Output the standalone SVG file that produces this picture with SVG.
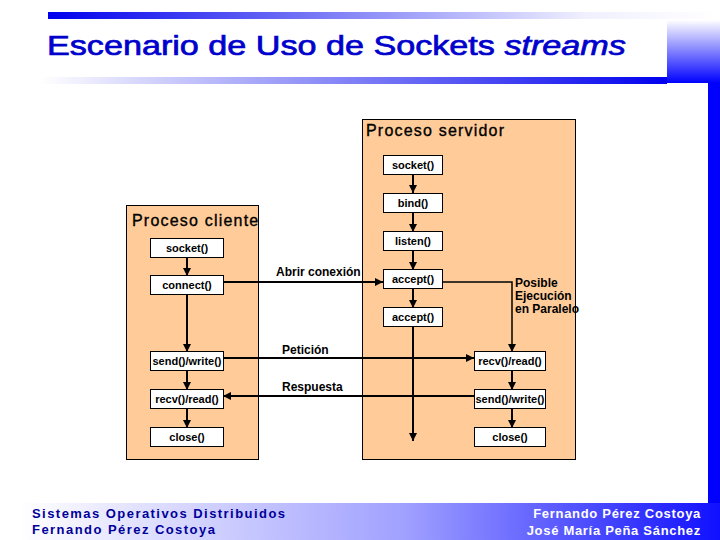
<svg xmlns="http://www.w3.org/2000/svg" width="720" height="540" viewBox="0 0 720 540">
<defs>
<linearGradient id="gTop" x1="0" y1="0" x2="1" y2="0"><stop offset="0" stop-color="#0000ee"/><stop offset="0.8" stop-color="#f0f0ff"/><stop offset="1" stop-color="#ffffff"/></linearGradient>
<linearGradient id="gBot" x1="0" y1="0" x2="1" y2="0"><stop offset="0" stop-color="#ffffff"/><stop offset="1" stop-color="#0000ee"/></linearGradient>
<linearGradient id="gRight" x1="0" y1="0" x2="0" y2="1"><stop offset="0" stop-color="#ffffff"/><stop offset="1" stop-color="#0000ff"/></linearGradient>
<linearGradient id="gFoot" gradientUnits="userSpaceOnUse" x1="20" y1="0" x2="720" y2="0"><stop offset="0" stop-color="#ffffff"/><stop offset="0.55" stop-color="#a0a0ff"/><stop offset="1" stop-color="#1010ff"/></linearGradient>
<marker id="ah" markerUnits="userSpaceOnUse" markerWidth="8" markerHeight="8" refX="8" refY="4" orient="auto"><path d="M0,0 L8,4 L0,8 z" fill="#000"/></marker>
<style>
.proc{fill:#FFCC99;stroke:#000;stroke-width:1}
.box{fill:#fff;stroke:#000;stroke-width:1}
.lbl{font-family:"Liberation Sans",Arial,sans-serif;font-size:11px;font-weight:bold;fill:#000;text-anchor:middle}
.ptitle{font-family:"Liberation Sans",Arial,sans-serif;font-size:16px;fill:#000;stroke:#000;stroke-width:0.35px;letter-spacing:1.2px}
.clbl{font-family:"Liberation Sans",Arial,sans-serif;font-size:12px;font-weight:bold;fill:#000}
.ln{fill:none;stroke:#000;stroke-width:2}
.ln1{fill:none;stroke:#000;stroke-width:1.5}
.fl{font-family:"Liberation Sans",Arial,sans-serif;font-size:13px;font-weight:bold;fill:#000099;letter-spacing:1.45px}
.fr{font-family:"Liberation Sans",Arial,sans-serif;font-size:13px;font-weight:bold;fill:#ffffff;letter-spacing:0.7px;text-anchor:end}
</style>
</defs>
<g id="header">
<rect x="48" y="12" width="672" height="7" fill="url(#gTop)"/>
<rect x="667" y="20" width="53" height="63" fill="url(#gRight)"/>
<rect x="40" y="77" width="627" height="7" fill="url(#gBot)"/>
<rect x="708" y="83" width="12" height="420" fill="#0000ff"/>
<text transform="translate(47,55) scale(1.22,1)" x="0" y="0" font-family="'Liberation Sans',Arial,sans-serif" font-size="28" fill="#0000cc" stroke="#0000cc" stroke-width="0.7">Escenario de Uso de Sockets <tspan font-style="italic">streams</tspan></text>
</g>
<g id="footer">
<rect x="0" y="503" width="720" height="37" fill="url(#gFoot)"/>
<text class="fl" x="32" y="518">Sistemas Operativos Distribuidos</text>
<text class="fl" x="32" y="534">Fernando Pérez Costoya</text>
<text class="fr" x="701" y="518">Fernando Pérez Costoya</text>
<text class="fr" x="701" y="535">José María Peña Sánchez</text>
</g>
<g id="servidor">
<rect class="proc" x="362.5" y="119.5" width="213" height="340"/>
<text class="ptitle" x="366" y="136">Proceso servidor</text>
</g>
<g id="cliente">
<rect class="proc" x="126.5" y="205.5" width="132" height="254"/>
<text class="ptitle" x="132" y="226">Proceso cliente</text>
</g>
<g id="connectors">
<line class="ln" x1="413" y1="174" x2="413" y2="193" marker-end="url(#ah)"/>
<line class="ln" x1="413" y1="212" x2="413" y2="232" marker-end="url(#ah)"/>
<line class="ln" x1="413" y1="250" x2="413" y2="270" marker-end="url(#ah)"/>
<line class="ln" x1="413" y1="288" x2="413" y2="308" marker-end="url(#ah)"/>
<line class="ln" x1="413" y1="327" x2="413" y2="441" marker-end="url(#ah)"/>
<line class="ln" x1="187" y1="257" x2="187" y2="276" marker-end="url(#ah)"/>
<line class="ln" x1="187" y1="294" x2="187" y2="352" marker-end="url(#ah)"/>
<line class="ln" x1="187" y1="371" x2="187" y2="390" marker-end="url(#ah)"/>
<line class="ln" x1="187" y1="409" x2="187" y2="428" marker-end="url(#ah)"/>
<line class="ln" x1="512" y1="371" x2="512" y2="390" marker-end="url(#ah)"/>
<line class="ln" x1="512" y1="409" x2="512" y2="428" marker-end="url(#ah)"/>
<line class="ln" x1="223" y1="282" x2="383" y2="282" marker-end="url(#ah)"/>
<polyline class="ln1" points="442,282 512,282 512,352" marker-end="url(#ah)"/>
<line class="ln" x1="223" y1="358" x2="474" y2="358" marker-end="url(#ah)"/>
<line class="ln" x1="474" y1="396" x2="223" y2="396" marker-end="url(#ah)"/>
<text class="clbl" x="276" y="276">Abrir conexión</text>
<text class="clbl" x="282" y="354">Petición</text>
<text class="clbl" x="282" y="391">Respuesta</text>
<text class="clbl" x="515" y="287" font-size="11">Posible</text>
<text class="clbl" x="515" y="300" font-size="11">Ejecución</text>
<text class="clbl" x="515" y="313" font-size="11">en Paralelo</text>
</g>
<g id="s_socket"><rect class="box" x="383.5" y="155.5" width="59" height="19"/><text class="lbl" x="413" y="169">socket()</text></g>
<g id="s_bind"><rect class="box" x="383.5" y="193.5" width="59" height="19"/><text class="lbl" x="413" y="207">bind()</text></g>
<g id="s_listen"><rect class="box" x="383.5" y="231.5" width="59" height="19"/><text class="lbl" x="413" y="245">listen()</text></g>
<g id="s_accept1"><rect class="box" x="383.5" y="269.5" width="59" height="19"/><text class="lbl" x="413" y="283">accept()</text></g>
<g id="s_accept2"><rect class="box" x="383.5" y="307.5" width="59" height="19"/><text class="lbl" x="413" y="321">accept()</text></g>
<g id="s_recv"><rect class="box" x="474.5" y="351.5" width="71" height="19"/><text class="lbl" x="510" y="365">recv()/read()</text></g>
<g id="s_send"><rect class="box" x="474.5" y="389.5" width="71" height="19"/><text class="lbl" x="510" y="403">send()/write()</text></g>
<g id="s_close"><rect class="box" x="474.5" y="427.5" width="71" height="19"/><text class="lbl" x="510" y="441">close()</text></g>
<g id="c_socket"><rect class="box" x="150.5" y="238.5" width="73" height="19"/><text class="lbl" x="187" y="252">socket()</text></g>
<g id="c_connect"><rect class="box" x="150.5" y="275.5" width="73" height="19"/><text class="lbl" x="187" y="289">connect()</text></g>
<g id="c_send"><rect class="box" x="150.5" y="351.5" width="73" height="19"/><text class="lbl" x="187" y="365">send()/write()</text></g>
<g id="c_recv"><rect class="box" x="150.5" y="389.5" width="73" height="19"/><text class="lbl" x="187" y="403">recv()/read()</text></g>
<g id="c_close"><rect class="box" x="150.5" y="427.5" width="73" height="19"/><text class="lbl" x="187" y="441">close()</text></g>
</svg>
